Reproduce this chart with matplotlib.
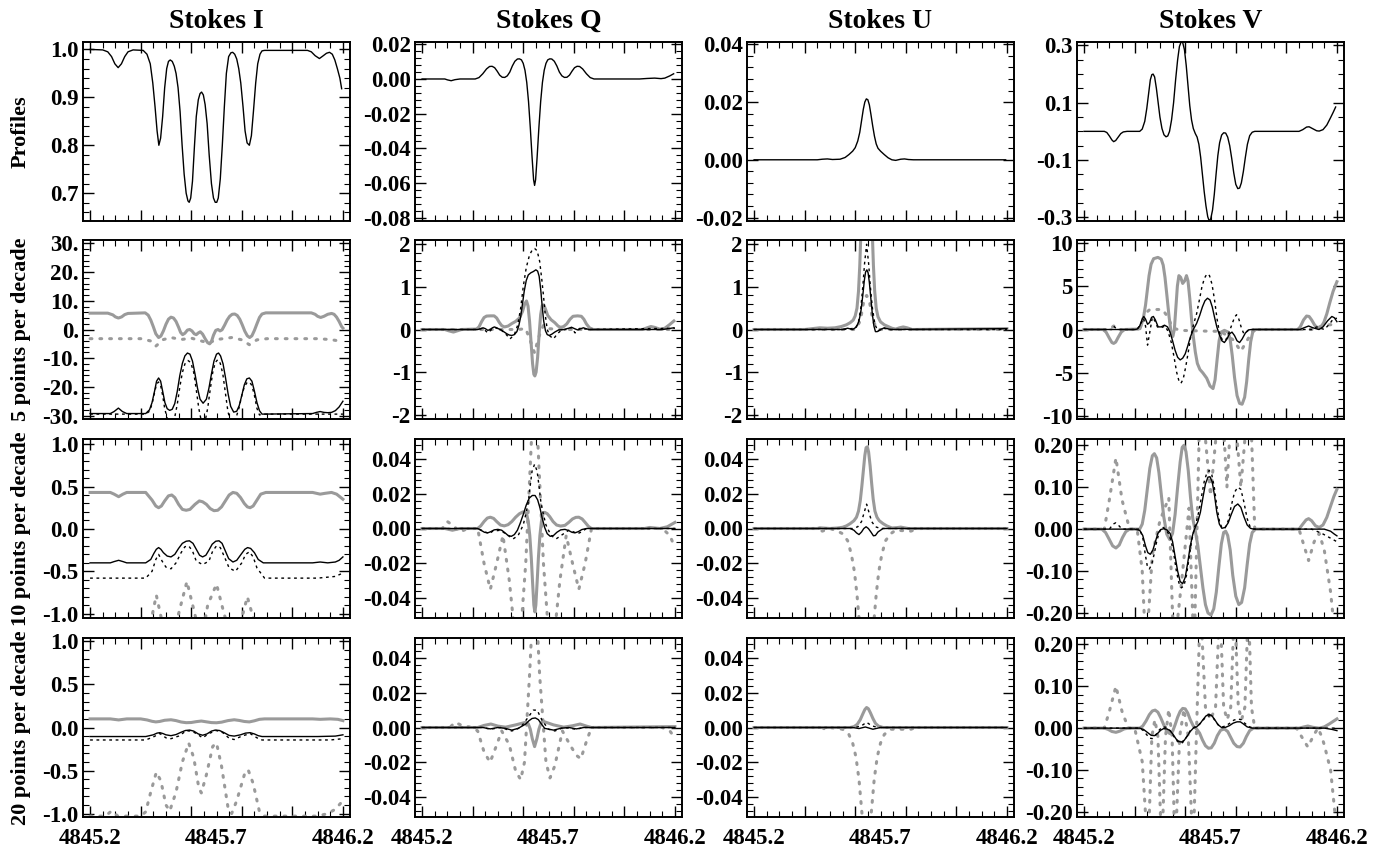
import matplotlib
matplotlib.use("Agg")
import matplotlib.pyplot as plt
from matplotlib.ticker import MultipleLocator, FixedLocator, FixedFormatter

plt.rcParams['font.family'] = ['Liberation Serif', 'DejaVu Serif']
plt.rcParams['font.weight'] = 'bold'
plt.rcParams['axes.unicode_minus'] = False

# ---------------- data ----------------
col_titles = ["Stokes I", "Stokes Q", "Stokes U", "Stokes V"]
row_labels = ["Profiles", "5 points per decade", "10 points per decade", "20 points per decade"]
x_labels = ["4845.2", "4845.7", "4846.2"]
x_label_pos = [4845.2, 4845.7, 4846.2]

# Row 1: profiles
prof_I = [(4845.20,1.000),(4845.25,0.999),(4845.27,0.995),(4845.285,0.985),(4845.298,0.970),(4845.311,0.962),
          (4845.324,0.970),(4845.337,0.985),(4845.35,0.995),(4845.37,0.999),(4845.41,0.998),(4845.425,0.99),
          (4845.438,0.97),(4845.448,0.93),(4845.457,0.88),(4845.465,0.83),(4845.472,0.80),(4845.479,0.815),
          (4845.487,0.86),(4845.495,0.92),(4845.503,0.96),(4845.51,0.975),(4845.517,0.978),(4845.525,0.975),
          (4845.533,0.965),(4845.54,0.95),(4845.548,0.92),(4845.556,0.87),(4845.564,0.80),(4845.572,0.74),
          (4845.58,0.70),(4845.587,0.684),(4845.592,0.681),(4845.598,0.69),(4845.605,0.725),(4845.613,0.80),
          (4845.62,0.86),(4845.628,0.895),(4845.635,0.908),(4845.641,0.911),(4845.648,0.905),(4845.655,0.885),
          (4845.663,0.845),(4845.671,0.78),(4845.68,0.72),(4845.688,0.69),(4845.695,0.681),(4845.701,0.681),
          (4845.707,0.69),(4845.715,0.73),(4845.723,0.80),(4845.731,0.88),(4845.739,0.95),(4845.748,0.985),
          (4845.757,0.993),(4845.764,0.994),(4845.772,0.99),(4845.78,0.98),(4845.788,0.96),(4845.796,0.93),
          (4845.805,0.88),(4845.813,0.83),(4845.821,0.805),(4845.83,0.80),(4845.838,0.82),(4845.846,0.87),
          (4845.855,0.93),(4845.863,0.97),(4845.872,0.99),(4845.88,0.997),(4845.89,0.998),(4846.06,0.998),
          (4846.075,0.995),(4846.09,0.987),(4846.107,0.981),(4846.12,0.986),(4846.135,0.992),(4846.147,0.994),
          (4846.158,0.99),(4846.168,0.978),(4846.178,0.96),(4846.188,0.94),(4846.195,0.918)]
prof_Q = [(4845.20,0),(4845.29,0),(4845.30,-0.0005),(4845.315,-0.001),(4845.33,-0.0004),(4845.35,0),(4845.41,0),
          (4845.425,0.0008),(4845.44,0.003),(4845.455,0.0058),(4845.467,0.0072),(4845.477,0.0073),(4845.487,0.0065),
          (4845.497,0.0045),(4845.507,0.0022),(4845.517,0.001),(4845.527,0.0009),(4845.537,0.0018),(4845.547,0.004),
          (4845.557,0.0075),(4845.567,0.0102),(4845.577,0.0115),(4845.585,0.0116),(4845.593,0.011),(4845.60,0.009),
          (4845.607,0.005),(4845.614,-0.002),(4845.621,-0.013),(4845.628,-0.028),(4845.635,-0.045),(4845.641,-0.058),
          (4845.645,-0.0613),(4845.649,-0.058),(4845.655,-0.045),(4845.662,-0.028),(4845.669,-0.013),(4845.676,-0.002),
          (4845.683,0.005),(4845.69,0.009),(4845.697,0.011),(4845.705,0.0116),(4845.713,0.0115),(4845.723,0.0102),
          (4845.733,0.0075),(4845.743,0.004),(4845.753,0.0018),(4845.763,0.0009),(4845.773,0.001),(4845.783,0.0022),
          (4845.793,0.0045),(4845.803,0.0065),(4845.813,0.0073),(4845.823,0.0072),(4845.835,0.0058),(4845.85,0.003),
          (4845.865,0.0008),(4845.88,0),(4846.06,0),(4846.09,0.0003),(4846.12,0.0005),(4846.145,0.0002),
          (4846.16,0.0005),(4846.18,0.0018),(4846.195,0.003)]
prof_U = [(4845.20,0),(4845.45,0),(4845.47,0.0002),(4845.49,0.0003),(4845.51,0.0001),(4845.54,0.0002),(4845.56,0.0008),
          (4845.575,0.0018),(4845.59,0.003),(4845.60,0.0042),(4845.61,0.0065),(4845.618,0.0095),(4845.625,0.0135),
          (4845.632,0.0175),(4845.638,0.0200),(4845.644,0.0211),(4845.65,0.0208),(4845.656,0.019),(4845.662,0.0158),
          (4845.669,0.0118),(4845.676,0.0082),(4845.683,0.0055),(4845.69,0.004),(4845.70,0.003),(4845.715,0.0018),
          (4845.73,0.0007),(4845.745,0.0),(4845.76,-0.0002),(4845.78,0.0002),(4845.795,0.0003),(4845.81,0.0001),
          (4845.83,0.0),(4846.195,0.0)]
prof_V = [(4845.20,0),(4845.28,0),(4845.29,-0.004),(4845.30,-0.016),(4845.31,-0.03),(4845.317,-0.036),(4845.325,-0.032),
          (4845.335,-0.02),(4845.345,-0.008),(4845.355,-0.002),(4845.37,0),(4845.42,0),(4845.43,0.008),(4845.44,0.035),
          (4845.448,0.08),(4845.455,0.13),(4845.462,0.18),(4845.468,0.198),(4845.473,0.20),(4845.479,0.19),
          (4845.486,0.15),(4845.493,0.10),(4845.50,0.05),(4845.508,0.01),(4845.516,-0.012),(4845.524,-0.019),
          (4845.531,-0.016),(4845.538,0.0),(4845.546,0.04),(4845.554,0.10),(4845.562,0.18),(4845.57,0.25),
          (4845.577,0.296),(4845.584,0.313),(4845.59,0.31),(4845.597,0.285),(4845.604,0.23),(4845.611,0.16),
          (4845.618,0.09),(4845.625,0.04),(4845.632,0.01),(4845.64,-0.008),(4845.647,-0.02),(4845.654,-0.045),
          (4845.661,-0.09),(4845.668,-0.15),(4845.675,-0.21),(4845.682,-0.26),(4845.689,-0.298),(4845.695,-0.313),
          (4845.701,-0.305),(4845.708,-0.275),(4845.715,-0.22),(4845.722,-0.15),(4845.729,-0.085),(4845.736,-0.04),
          (4845.744,-0.013),(4845.752,-0.005),(4845.76,-0.006),(4845.768,-0.02),(4845.776,-0.05),(4845.784,-0.095),
          (4845.792,-0.145),(4845.80,-0.185),(4845.808,-0.20),(4845.815,-0.198),(4845.822,-0.18),(4845.83,-0.14),
          (4845.838,-0.09),(4845.846,-0.045),(4845.855,-0.015),(4845.865,-0.003),(4845.875,0),(4846.05,0),
          (4846.065,0.006),(4846.08,0.015),(4846.09,0.016),(4846.105,0.009),(4846.12,0.002),(4846.13,0.001),
          (4846.145,0.006),(4846.16,0.022),(4846.175,0.048),(4846.185,0.066),(4846.195,0.085)]

# Row 2: 5 points per decade  (gs = gray solid, gd = gray dotted, ks = black solid, kd = black dashed)
r2_I_gs = [(4845.20,5.7),(4845.27,5.7),(4845.29,5.1),(4845.30,4.4),(4845.312,4.0),(4845.325,4.4),(4845.337,5.2),
           (4845.35,5.6),(4845.418,5.8),(4845.43,5.0),(4845.44,3.3),(4845.45,1.0),(4845.46,-1.5),(4845.471,-2.8),
           (4845.48,-2.3),(4845.49,-0.5),(4845.50,1.8),(4845.51,3.6),(4845.52,4.3),(4845.53,4.0),(4845.54,2.8),
           (4845.55,0.8),(4845.558,-1.0),(4845.566,-1.8),(4845.575,-1.3),(4845.585,-0.2),(4845.594,0.0),
           (4845.603,-0.5),(4845.612,-1.5),(4845.62,-1.8),(4845.628,-1.2),(4845.636,-0.8),(4845.645,-1.6),
           (4845.655,-3.2),(4845.665,-4.6),(4845.673,-5.0),(4845.68,-4.2),(4845.688,-2.0),(4845.697,-0.3),
           (4845.706,0.0),(4845.714,-0.5),(4845.722,-0.1),(4845.732,1.5),(4845.742,3.3),(4845.752,4.6),
           (4845.762,5.3),(4845.772,5.4),(4845.782,4.9),(4845.792,3.6),(4845.802,1.6),(4845.812,-0.6),
           (4845.822,-2.2),(4845.831,-2.8),(4845.84,-2.2),(4845.85,-0.3),(4845.86,2.0),(4845.87,4.2),(4845.88,5.4),
           (4845.895,5.8),(4846.075,5.8),(4846.09,5.3),(4846.10,4.6),(4846.112,4.2),(4846.125,4.6),(4846.14,5.3),
           (4846.155,5.6),(4846.165,5.3),(4846.175,4.3),(4846.185,2.8),(4846.195,1.0),(4846.2,0.5)]
r2_I_gd = [(4845.20,-3.2),(4845.40,-3.2),(4845.44,-4.0),(4845.46,-5.8),(4845.49,-3.5),(4845.52,-2.8),
           (4845.56,-3.5),(4845.60,-3.0),(4845.64,-4.0),(4845.67,-4.7),(4845.70,-3.5),(4845.76,-2.8),
           (4845.80,-3.6),(4845.83,-5.3),(4845.86,-3.6),(4845.90,-3.2),(4846.10,-3.2),(4846.15,-3.5),(4846.2,-4.2)]
r2_I_ks = [(4845.20,-29.3),(4845.28,-29.3),(4845.295,-28.6),(4845.312,-27.4),(4845.328,-28.6),(4845.345,-29.3),
           (4845.42,-29.3),(4845.435,-28),(4845.445,-25.5),(4845.455,-21.5),(4845.463,-18),(4845.471,-16.9),
           (4845.479,-18),(4845.487,-21.5),(4845.496,-25.5),(4845.505,-27.6),(4845.515,-28.2),(4845.525,-27.8),
           (4845.535,-25.8),(4845.545,-21.5),(4845.555,-16),(4845.565,-11.8),(4845.575,-9.2),(4845.585,-8.2),
           (4845.595,-8.6),(4845.605,-11),(4845.615,-15.5),(4845.625,-20.5),(4845.635,-24.3),(4845.647,-25.7),
           (4845.66,-24.3),(4845.67,-20.5),(4845.68,-15.5),(4845.69,-11),(4845.70,-8.6),(4845.708,-8.2),
           (4845.716,-9.2),(4845.726,-12),(4845.736,-17),(4845.746,-22.5),(4845.756,-26.8),(4845.768,-28.8),
           (4845.78,-28.5),(4845.79,-26.5),(4845.80,-23),(4845.81,-19.3),(4845.82,-17.2),(4845.83,-16.9),
           (4845.84,-18),(4845.85,-21.5),(4845.86,-25.5),(4845.87,-28.3),(4845.88,-29.5),(4846.08,-29.3),
           (4846.095,-28.9),(4846.11,-28.6),(4846.125,-28.9),(4846.14,-29.0),(4846.155,-28.9),(4846.17,-28.3),
           (4846.185,-27),(4846.2,-25.0)]
r2_I_kd = [(4845.20,-29.5),(4845.42,-29.5),(4845.435,-28.5),(4845.445,-26),(4845.455,-22),(4845.463,-19),
           (4845.471,-18.3),(4845.479,-19.5),(4845.487,-23),(4845.495,-27.5),(4845.505,-31),(4845.52,-32),
           (4845.535,-30.5),(4845.545,-26),(4845.555,-20),(4845.565,-15),(4845.575,-12),(4845.587,-10.8),
           (4845.598,-11.5),(4845.61,-15),(4845.62,-21),(4845.63,-27.5),(4845.64,-32),(4845.655,-32),
           (4845.665,-27.5),(4845.675,-21),(4845.685,-15),(4845.695,-11.5),(4845.705,-10.5),(4845.715,-11.8),
           (4845.725,-15.5),(4845.735,-22),(4845.745,-28.5),(4845.755,-32),(4845.77,-32),(4845.78,-30),
           (4845.79,-27),(4845.80,-23),(4845.81,-20),(4845.82,-18.6),(4845.83,-18.3),(4845.84,-19.5),
           (4845.85,-23),(4845.86,-27.5),(4845.87,-29.8),(4845.88,-29.5),(4846.2,-29.5)]

r2_Q_gs = [(4845.200,0),(4845.29,0),(4845.305,-0.03),(4845.324,-0.06),(4845.34,-0.03),(4845.356,0),(4845.415,0.01),
           (4845.425,0.06),(4845.435,0.18),(4845.445,0.28),(4845.455,0.315),(4845.47,0.32),(4845.485,0.32),
           (4845.495,0.27),(4845.505,0.17),(4845.515,0.09),(4845.526,0.06),(4845.54,0.08),(4845.555,0.14),
           (4845.57,0.19),(4845.585,0.27),(4845.597,0.42),(4845.606,0.6),(4845.613,0.67),(4845.619,0.55),
           (4845.625,0.2),(4845.631,-0.3),(4845.637,-0.8),(4845.642,-1.05),(4845.646,-1.09),(4845.651,-1.0),
           (4845.657,-0.65),(4845.663,-0.1),(4845.669,0.35),(4845.675,0.56),(4845.681,0.58),(4845.688,0.48),
           (4845.697,0.33),(4845.71,0.23),(4845.725,0.16),(4845.738,0.08),(4845.748,0.05),(4845.76,0.07),
           (4845.772,0.13),(4845.785,0.24),(4845.797,0.31),(4845.815,0.32),(4845.83,0.31),(4845.84,0.24),
           (4845.85,0.13),(4845.862,0.04),(4845.877,0),(4846.072,0),(4846.09,0.04),(4846.105,0.07),(4846.12,0.05),
           (4846.144,0.0),(4846.16,0.03),(4846.178,0.11),(4846.196,0.2)]
r2_Q_gd = [(4845.20,0),(4845.58,0),(4845.61,0.02),(4845.63,-0.3),(4845.645,-0.55),(4845.66,-0.2),
           (4845.68,0.1),(4845.70,0.02),(4845.75,0),(4846.2,0)]
r2_Q_ks = [(4845.200,0.0),(4845.421,0.0),(4845.432,0.02),(4845.441,0.04),(4845.45,0.02),(4845.46,-0.02),
           (4845.47,0.0),(4845.478,0.04),(4845.486,0.06),(4845.495,0.04),(4845.505,0.01),(4845.515,-0.02),
           (4845.525,-0.06),(4845.535,-0.1),(4845.545,-0.13),(4845.555,-0.14),(4845.565,-0.12),(4845.575,-0.05),
           (4845.583,0.1),(4845.59,0.3),(4845.597,0.6),(4845.604,0.9),(4845.612,1.15),(4845.62,1.28),(4845.63,1.33),
           (4845.64,1.36),(4845.65,1.40),(4845.657,1.37),(4845.663,1.25),(4845.669,0.95),(4845.675,0.55),
           (4845.681,0.2),(4845.688,-0.03),(4845.695,-0.12),(4845.703,-0.14),(4845.713,-0.11),(4845.725,-0.06),
           (4845.74,-0.01),(4845.76,0.0),(4845.78,0.03),(4845.792,0.05),(4845.803,0.02),(4845.815,-0.01),
           (4845.828,0.02),(4845.838,0.04),(4845.848,0.02),(4845.86,0.0),(4846.151,0.0),(4846.196,0.04)]
r2_Q_kd = [(4845.20,0),(4845.42,0),(4845.44,0.03),(4845.46,-0.08),(4845.475,0.0),(4845.49,0.04),(4845.51,0),
           (4845.53,-0.1),(4845.548,-0.22),(4845.565,-0.12),(4845.578,0.1),(4845.59,0.5),(4845.60,1.0),
           (4845.612,1.45),(4845.625,1.75),(4845.637,1.88),(4845.645,1.9),(4845.655,1.85),(4845.665,1.6),
           (4845.673,1.2),(4845.68,0.8),(4845.687,0.35),(4845.695,0.0),(4845.705,-0.15),(4845.72,-0.22),
           (4845.735,-0.1),(4845.75,-0.02),(4845.77,0.0),(4845.79,0.05),(4845.805,-0.08),(4845.825,0.03),
           (4845.86,0),(4846.2,0.03)]

r2_U_gs = [(4845.20,0),(4845.40,0),(4845.43,0.02),(4845.46,0.04),(4845.49,0.03),(4845.52,0.04),(4845.545,0.07),
           (4845.565,0.11),(4845.58,0.16),(4845.592,0.22),(4845.60,0.32),(4845.607,0.5),(4845.613,0.9),
           (4845.618,1.5),(4845.622,2.2),(4845.628,3.0),(4845.645,3.4),(4845.662,3.0),(4845.668,2.2),
           (4845.672,1.5),(4845.677,0.9),(4845.683,0.5),(4845.69,0.3),(4845.70,0.18),(4845.715,0.11),
           (4845.73,0.07),(4845.745,0.03),(4845.76,0.01),(4845.775,0.04),(4845.79,0.06),(4845.805,0.04),
           (4845.825,0.0),(4846.2,0.02)]
r2_U_gd = [(4845.20,0),(4845.60,0),(4845.62,0.2),(4845.635,0.7),(4845.645,0.8),(4845.655,0.7),(4845.67,0.2),
           (4845.69,0),(4846.2,0)]
r2_U_ks = [(4845.20,0),(4845.55,0),(4845.57,0.03),(4845.59,0.0),(4845.605,0.06),(4845.615,0.2),(4845.623,0.45),
           (4845.63,0.8),(4845.636,1.15),(4845.641,1.35),(4845.646,1.4),(4845.651,1.33),(4845.656,1.1),
           (4845.662,0.72),(4845.668,0.35),(4845.674,0.08),(4845.68,-0.05),(4845.687,-0.05),(4845.70,0.0),
           (4845.715,0.04),(4845.74,0.0),(4846.2,0.02)]
r2_U_kd = [(4845.20,0),(4845.55,0),(4845.60,0.03),(4845.612,0.15),(4845.622,0.5),(4845.63,1.0),(4845.637,1.55),
           (4845.645,2.0),(4845.653,1.55),(4845.66,1.0),(4845.668,0.5),(4845.678,0.12),(4845.69,-0.04),
           (4845.71,0.03),(4845.74,0),(4846.2,0)]

r2_V_gs = [(4845.200,0),(4845.275,0),(4845.287,-0.3),(4845.30,-1.0),(4845.31,-1.5),(4845.317,-1.6),(4845.325,-1.45),
           (4845.335,-0.9),(4845.347,-0.3),(4845.36,0),(4845.415,0.05),(4845.425,0.4),(4845.435,1.4),(4845.443,2.8),
           (4845.45,4.5),(4845.457,6.2),(4845.465,7.5),(4845.475,8.15),(4845.492,8.3),(4845.505,8.1),(4845.513,7.4),
           (4845.52,6.0),(4845.528,3.8),(4845.536,1.5),(4845.544,-0.3),(4845.551,-0.8),(4845.557,0.0),(4845.563,2.5),
           (4845.569,5.0),(4845.575,6.2),(4845.582,6.0),(4845.59,5.3),(4845.598,5.6),(4845.605,6.2),(4845.611,5.6),
           (4845.618,3.6),(4845.625,1.2),(4845.632,-0.8),(4845.64,-2.6),(4845.648,-3.9),(4845.658,-4.6),
           (4845.67,-5.0),(4845.685,-5.6),(4845.698,-6.5),(4845.71,-6.8),(4845.718,-5.8),(4845.726,-3.5),
           (4845.734,-1.3),(4845.742,-0.3),(4845.755,-0.1),(4845.77,-0.3),(4845.778,-1.2),(4845.786,-3.0),
           (4845.795,-5.5),(4845.805,-7.6),(4845.815,-8.5),(4845.825,-8.6),(4845.835,-7.8),(4845.843,-6.0),
           (4845.851,-3.5),(4845.859,-1.4),(4845.867,-0.3),(4845.878,0),(4846.045,0),(4846.055,0.3),(4846.068,1.1),
           (4846.08,1.55),(4846.09,1.5),(4846.10,1.1),(4846.112,0.5),(4846.125,0.15),(4846.135,0.2),(4846.148,0.8),
           (4846.16,1.8),(4846.172,3.1),(4846.185,4.4),(4846.2,5.5)]
r2_V_gd = [(4845.20,0),(4845.30,0),(4845.317,0.4),(4845.34,0),(4845.42,0),(4845.44,1.8),(4845.46,2.3),
           (4845.51,2.3),(4845.53,1.5),(4845.55,0.2),(4845.58,-0.1),(4845.70,-0.2),(4845.74,-0.2),(4845.79,-1.2),
           (4845.82,-2.5),(4845.85,-1.0),(4845.87,0),(4846.10,0),(4846.15,0.5),(4846.2,0.6)]
r2_V_ks = [(4845.200,0),(4845.401,0),(4845.41,0.05),(4845.42,0.4),(4845.43,1.2),(4845.436,1.5),(4845.443,1.2),
           (4845.451,0.6),(4845.459,0.8),(4845.467,1.4),(4845.474,1.5),(4845.482,1.1),(4845.493,0.3),(4845.505,0.3),
           (4845.518,0.5),(4845.53,0.3),(4845.54,-0.3),(4845.55,-1.3),(4845.56,-2.4),(4845.57,-3.2),(4845.58,-3.5),
           (4845.59,-3.3),(4845.60,-2.8),(4845.61,-1.9),(4845.62,-0.9),(4845.632,0.0),(4845.645,0.7),(4845.657,1.6),
           (4845.668,2.6),(4845.678,3.3),(4845.688,3.6),(4845.698,3.4),(4845.707,2.6),(4845.716,1.4),(4845.725,0.3),
           (4845.735,-0.6),(4845.745,-1.3),(4845.755,-1.5),(4845.765,-1.1),(4845.775,-0.5),(4845.785,-0.3),
           (4845.795,-0.7),(4845.805,-1.3),(4845.815,-1.5),(4845.825,-1.1),(4845.838,-0.4),(4845.85,-0.05),
           (4845.862,0),(4846.054,0),(4846.07,0.2),(4846.088,0.4),(4846.105,0.2),(4846.129,0.0),(4846.145,0.3),
           (4846.163,1.0),(4846.18,1.5),(4846.19,1.35),(4846.2,0.9)]
r2_V_kd = [(4845.20,0),(4845.31,0),(4845.317,0.4),(4845.33,0),(4845.41,0),(4845.425,0.7),(4845.435,1.3),
           (4845.443,0.4),(4845.451,-1.8),(4845.46,-0.3),(4845.47,1.4),(4845.48,1.0),(4845.49,0.3),(4845.505,0.2),
           (4845.52,0.4),(4845.532,-0.2),(4845.545,-1.5),(4845.556,-3.2),(4845.566,-4.9),(4845.575,-5.9),
           (4845.583,-6.2),(4845.592,-5.7),(4845.602,-4.3),(4845.612,-2.6),(4845.622,-0.8),(4845.633,0.6),
           (4845.645,1.8),(4845.656,3.4),(4845.666,4.9),(4845.676,5.9),(4845.686,6.4),(4845.696,6.2),(4845.706,5.2),
           (4845.716,3.4),(4845.726,1.2),(4845.735,-0.3),(4845.745,-1.1),(4845.755,-1.3),(4845.765,-1.0),
           (4845.775,-0.2),(4845.785,0.6),(4845.795,1.4),(4845.803,1.7),(4845.812,1.2),(4845.822,0.2),
           (4845.832,-0.5),(4845.845,-0.2),(4845.855,0),(4846.10,0),(4846.12,0.3),(4846.15,0.0),(4846.17,0.6),
           (4846.185,1.2),(4846.2,1.3)]

# Row 3: 10 points per decade
r3_I_gs = [(4845.20,0.43),(4845.28,0.43),(4845.295,0.41),(4845.313,0.38),(4845.33,0.41),(4845.345,0.43),(4845.42,0.43),
           (4845.445,0.34),(4845.46,0.27),(4845.471,0.25),(4845.482,0.27),(4845.495,0.33),(4845.51,0.39),
           (4845.523,0.40),(4845.535,0.37),(4845.55,0.29),(4845.565,0.23),(4845.58,0.22),(4845.595,0.23),
           (4845.615,0.29),(4845.632,0.33),(4845.645,0.32),(4845.66,0.29),(4845.675,0.24),(4845.69,0.215),
           (4845.705,0.22),(4845.72,0.26),(4845.735,0.33),(4845.75,0.40),(4845.765,0.43),(4845.78,0.42),
           (4845.795,0.37),(4845.81,0.30),(4845.822,0.26),(4845.833,0.25),(4845.845,0.27),(4845.86,0.34),
           (4845.875,0.41),(4845.895,0.43),(4846.08,0.43),(4846.095,0.42),(4846.11,0.41),(4846.13,0.42),
           (4846.155,0.43),(4846.175,0.41),(4846.2,0.35)]
r3_I_gd = [(4845.20,-1.6),(4845.42,-1.6),(4845.44,-1.1),(4845.462,-0.78),(4845.485,-1.1),(4845.515,-1.4),
           (4845.55,-1.0),(4845.583,-0.62),(4845.61,-0.95),(4845.63,-1.2),(4845.645,-1.25),(4845.665,-0.9),
           (4845.70,-0.65),(4845.73,-1.0),(4845.77,-1.4),(4845.80,-1.05),(4845.822,-0.8),(4845.85,-1.1),
           (4845.89,-1.6),(4846.2,-1.6)]
r3_I_ks = [(4845.20,-0.40),(4845.28,-0.40),(4845.295,-0.385),(4845.313,-0.37),(4845.33,-0.385),(4845.345,-0.40),
           (4845.42,-0.40),(4845.44,-0.36),(4845.452,-0.29),(4845.462,-0.24),(4845.471,-0.22),(4845.48,-0.24),
           (4845.49,-0.28),(4845.505,-0.32),(4845.52,-0.33),(4845.535,-0.30),(4845.55,-0.23),(4845.565,-0.17),
           (4845.58,-0.145),(4845.593,-0.14),(4845.607,-0.17),(4845.62,-0.24),(4845.633,-0.31),(4845.645,-0.33),
           (4845.658,-0.31),(4845.67,-0.25),(4845.683,-0.18),(4845.697,-0.145),(4845.71,-0.14),(4845.722,-0.17),
           (4845.735,-0.26),(4845.748,-0.35),(4845.765,-0.39),(4845.78,-0.37),(4845.797,-0.30),(4845.812,-0.24),
           (4845.823,-0.22),(4845.835,-0.23),(4845.85,-0.28),(4845.865,-0.36),(4845.885,-0.40),(4846.08,-0.40),
           (4846.11,-0.39),(4846.14,-0.40),(4846.17,-0.39),(4846.185,-0.37),(4846.2,-0.33)]
r3_I_kd = [(4845.20,-0.58),(4845.42,-0.58),(4845.445,-0.50),(4845.46,-0.36),(4845.471,-0.30),(4845.485,-0.38),
           (4845.50,-0.45),(4845.52,-0.47),(4845.54,-0.40),(4845.56,-0.28),(4845.575,-0.21),(4845.59,-0.20),
           (4845.605,-0.26),(4845.62,-0.38),(4845.645,-0.42),(4845.67,-0.38),(4845.685,-0.26),(4845.70,-0.20),
           (4845.715,-0.22),(4845.73,-0.32),(4845.75,-0.46),(4845.775,-0.50),(4845.80,-0.40),(4845.815,-0.30),
           (4845.83,-0.27),(4845.845,-0.33),(4845.86,-0.46),(4845.89,-0.58),(4846.10,-0.58),(4846.17,-0.56),
           (4846.2,-0.52)]

r3_Q_gs = [(4845.20,0.0),(4845.29,0.0),(4845.305,-0.0005),(4845.32,-0.001),(4845.335,-0.0005),(4845.35,0.0),
           (4845.42,0.0),(4845.432,0.0015),(4845.445,0.004),(4845.458,0.006),(4845.47,0.0065),(4845.483,0.0058),
           (4845.495,0.004),(4845.51,0.002),(4845.525,0.0015),(4845.54,0.0022),(4845.555,0.004),(4845.57,0.0065),
           (4845.585,0.0085),(4845.598,0.0095),(4845.607,0.0095),(4845.614,0.008),(4845.62,0.004),(4845.626,-0.004),
           (4845.632,-0.017),(4845.637,-0.031),(4845.642,-0.044),(4845.646,-0.048),(4845.65,-0.044),(4845.655,-0.031),
           (4845.66,-0.017),(4845.666,-0.004),(4845.672,0.004),(4845.678,0.0085),(4845.685,0.0093),(4845.695,0.0085),
           (4845.705,0.0068),(4845.718,0.004),(4845.732,0.002),(4845.748,0.0014),(4845.765,0.0018),(4845.78,0.0035),
           (4845.795,0.0055),(4845.808,0.0064),(4845.82,0.0065),(4845.833,0.0055),(4845.845,0.0035),
           (4845.858,0.0012),(4845.87,0.0),(4846.08,0.0),(4846.10,0.0006),(4846.12,0.0003),(4846.14,0.0),
           (4846.17,0.001),(4846.2,0.0035)]
r3_Q_gd = [(4845.20,0),(4845.28,0),(4845.30,0.004),(4845.32,0.002),(4845.35,-0.002),(4845.38,0),(4845.42,0),
           (4845.445,-0.02),(4845.47,-0.035),(4845.495,-0.02),(4845.52,-0.004),(4845.545,-0.03),(4845.58,-0.08),
           (4845.61,-0.02),(4845.645,0.09),(4845.68,-0.02),(4845.71,-0.08),(4845.745,-0.03),(4845.77,-0.004),
           (4845.795,-0.02),(4845.82,-0.035),(4845.845,-0.02),(4845.87,0),(4846.15,0),(4846.18,-0.004),(4846.2,-0.011)]
r3_Q_ks = [(4845.20,0),(4845.42,0),(4845.435,-0.0012),(4845.447,-0.0022),(4845.46,-0.0025),(4845.472,-0.0018),
           (4845.485,-0.0008),(4845.50,-0.0005),(4845.515,-0.001),(4845.528,-0.0025),(4845.54,-0.004),
           (4845.553,-0.0045),(4845.565,-0.0035),(4845.577,-0.001),(4845.588,0.003),(4845.60,0.008),
           (4845.612,0.0135),(4845.624,0.0175),(4845.636,0.019),(4845.647,0.019),(4845.657,0.0165),(4845.666,0.012),
           (4845.675,0.006),(4845.685,0.0005),(4845.695,-0.003),(4845.707,-0.0045),(4845.72,-0.004),
           (4845.733,-0.0022),(4845.748,-0.0008),(4845.765,-0.0005),(4845.78,-0.0012),(4845.793,-0.0022),
           (4845.805,-0.0025),(4845.818,-0.0018),(4845.832,-0.0006),(4845.85,0),(4846.2,0)]
r3_Q_kd = [(4845.20,0),(4845.42,0),(4845.45,-0.002),(4845.465,-0.003),(4845.48,-0.0015),(4845.51,-0.001),
           (4845.54,-0.004),(4845.56,-0.006),(4845.58,-0.004),(4845.60,0.002),(4845.61,0.008),(4845.62,0.015),
           (4845.628,0.025),(4845.635,0.033),(4845.645,0.037),(4845.655,0.033),(4845.662,0.025),(4845.67,0.015),
           (4845.68,0.008),(4845.69,0.002),(4845.71,-0.004),(4845.73,-0.006),(4845.75,-0.004),(4845.78,-0.001),
           (4845.80,-0.002),(4845.815,-0.003),(4845.83,-0.002),(4845.85,0),(4846.2,0)]

r3_U_gs = [(4845.20,0),(4845.45,0),(4845.46,0.0004),(4845.48,0.0002),(4845.50,0.0),(4845.53,0.0003),(4845.55,0.0007),
           (4845.565,0.0015),(4845.58,0.0028),(4845.595,0.0045),(4845.605,0.0065),(4845.613,0.01),(4845.62,0.016),
           (4845.626,0.024),(4845.632,0.033),(4845.638,0.042),(4845.643,0.0465),(4845.648,0.047),(4845.653,0.044),
           (4845.659,0.036),(4845.665,0.026),(4845.671,0.017),(4845.678,0.01),(4845.686,0.0065),(4845.695,0.0045),
           (4845.71,0.0028),(4845.725,0.0015),(4845.745,0.0003),(4845.765,0.0005),(4845.78,0.0008),(4845.795,0.0004),
           (4845.81,0),(4846.2,0)]
r3_U_gd = [(4845.20,0),(4845.45,0),(4845.47,-0.0015),(4845.50,0),(4845.53,-0.0015),(4845.55,-0.003),(4845.57,-0.007),
           (4845.585,-0.015),(4845.597,-0.025),(4845.607,-0.038),(4845.617,-0.055),(4845.63,-0.08),(4845.645,-0.09),
           (4845.66,-0.08),(4845.673,-0.055),(4845.683,-0.038),(4845.693,-0.025),(4845.705,-0.015),(4845.72,-0.007),
           (4845.74,-0.003),(4845.76,-0.001),(4845.82,-0.0015),(4845.85,0),(4846.2,0)]
r3_U_ks = [(4845.20,0),(4845.58,0),(4845.595,-0.001),(4845.605,-0.0025),(4845.615,-0.0035),(4845.625,-0.002),
           (4845.634,0.0),(4845.643,0.001),(4845.652,0.0),(4845.662,-0.002),(4845.672,-0.0042),(4845.68,-0.004),
           (4845.69,-0.002),(4845.71,0),(4846.2,0)]
r3_U_kd = [(4845.20,0),(4845.59,0),(4845.61,0.001),(4845.625,0.004),(4845.635,0.009),(4845.645,0.014),
           (4845.655,0.009),(4845.665,0.004),(4845.68,0.001),(4845.70,0),(4846.2,0)]

r3_V_gs = [(4845.20,0),(4845.27,0),(4845.285,-0.008),(4845.30,-0.025),(4845.313,-0.04),(4845.326,-0.045),
           (4845.339,-0.038),(4845.352,-0.02),(4845.365,-0.006),(4845.38,0),(4845.42,0.0),(4845.43,0.012),
           (4845.44,0.045),(4845.45,0.095),(4845.46,0.145),(4845.47,0.175),(4845.478,0.18),(4845.487,0.17),
           (4845.496,0.135),(4845.505,0.085),(4845.515,0.03),(4845.527,-0.012),(4845.539,-0.025),(4845.55,-0.01),
           (4845.56,0.035),(4845.57,0.1),(4845.58,0.16),(4845.588,0.195),(4845.595,0.2),(4845.603,0.185),
           (4845.612,0.14),(4845.621,0.075),(4845.63,0.025),(4845.64,-0.005),(4845.65,-0.04),(4845.66,-0.09),
           (4845.67,-0.14),(4845.68,-0.18),(4845.69,-0.20),(4845.702,-0.205),(4845.713,-0.19),(4845.723,-0.15),
           (4845.733,-0.09),(4845.743,-0.035),(4845.752,-0.008),(4845.76,-0.005),(4845.768,-0.015),(4845.778,-0.05),
           (4845.788,-0.11),(4845.80,-0.16),(4845.812,-0.18),(4845.823,-0.175),(4845.835,-0.14),(4845.845,-0.085),
           (4845.855,-0.035),(4845.865,-0.008),(4845.878,0),(4846.05,0),(4846.065,0.012),(4846.078,0.022),
           (4846.088,0.025),(4846.10,0.02),(4846.115,0.008),(4846.13,0.004),(4846.145,0.01),(4846.16,0.028),
           (4846.175,0.055),(4846.188,0.078),(4846.2,0.095)]
r3_V_gd = [(4845.20,0),(4845.28,0),(4845.30,0.07),(4845.326,0.17),(4845.35,0.07),(4845.38,0),(4845.41,0),
           (4845.43,-0.1),(4845.445,-0.3),(4845.47,-0.06),(4845.50,0.02),(4845.535,0.075),(4845.555,-0.3),
           (4845.59,-0.1),(4845.615,0.05),(4845.635,-0.3),(4845.66,0.35),(4845.70,0.08),(4845.742,0.35),
           (4845.765,0.1),(4845.788,0.35),(4845.82,0.1),(4845.855,0.35),(4845.875,0),(4846.05,0),(4846.07,-0.04),
           (4846.088,-0.075),(4846.11,-0.03),(4846.13,-0.01),(4846.15,-0.05),(4846.175,-0.15),(4846.2,-0.30)]
r3_V_ks = [(4845.20,0),(4845.40,0),(4845.42,-0.003),(4845.432,-0.015),(4845.443,-0.04),(4845.452,-0.056),
           (4845.462,-0.06),(4845.472,-0.05),(4845.482,-0.03),(4845.492,-0.01),(4845.503,-0.001),(4845.515,0.001),
           (4845.528,-0.002),(4845.54,-0.01),(4845.55,-0.03),(4845.56,-0.065),(4845.57,-0.10),(4845.58,-0.125),
           (4845.59,-0.13),(4845.60,-0.115),(4845.61,-0.08),(4845.62,-0.04),(4845.63,-0.012),(4845.64,0.005),
           (4845.65,0.018),(4845.66,0.04),(4845.67,0.075),(4845.68,0.108),(4845.69,0.124),(4845.698,0.125),
           (4845.707,0.112),(4845.716,0.08),(4845.725,0.04),(4845.735,0.012),(4845.745,0.002),(4845.758,0.004),
           (4845.77,0.015),(4845.782,0.035),(4845.795,0.054),(4845.808,0.06),(4845.82,0.052),(4845.832,0.03),
           (4845.845,0.01),(4845.858,0.002),(4845.87,0),(4846.15,0),(4846.175,-0.005),(4846.19,-0.012),(4846.2,-0.016)]
r3_V_kd = [(4845.20,0),(4845.30,0),(4845.315,0.012),(4845.325,0.015),(4845.338,0.008),(4845.35,0),(4845.42,0),
           (4845.432,-0.02),(4845.442,-0.06),(4845.45,-0.088),(4845.458,-0.095),(4845.467,-0.085),(4845.477,-0.06),
           (4845.487,-0.03),(4845.497,-0.008),(4845.51,0.005),(4845.523,0.0),(4845.535,-0.012),(4845.545,-0.03),
           (4845.555,-0.06),(4845.565,-0.10),(4845.575,-0.128),(4845.585,-0.14),(4845.595,-0.135),(4845.605,-0.11),
           (4845.615,-0.07),(4845.625,-0.03),(4845.635,0.0),(4845.645,0.02),(4845.655,0.045),(4845.665,0.08),
           (4845.675,0.113),(4845.685,0.133),(4845.695,0.14),(4845.705,0.13),(4845.715,0.10),(4845.725,0.055),
           (4845.735,0.02),(4845.745,0.003),(4845.757,0.002),(4845.77,0.02),(4845.782,0.055),(4845.795,0.088),
           (4845.808,0.10),(4845.82,0.095),(4845.832,0.065),(4845.845,0.025),(4845.857,0.005),(4845.875,0),
           (4846.10,0),(4846.14,-0.01),(4846.17,-0.02),(4846.2,-0.03)]

# Row 4: 20 points per decade
r4_I_gs = [(4845.20,0.10),(4845.28,0.10),(4845.313,0.088),(4845.345,0.10),(4845.40,0.10),(4845.425,0.088),
           (4845.445,0.072),(4845.46,0.065),(4845.475,0.07),(4845.495,0.084),(4845.52,0.09),(4845.54,0.08),
           (4845.56,0.064),(4845.58,0.056),(4845.60,0.058),(4845.62,0.068),(4845.64,0.075),(4845.66,0.066),
           (4845.68,0.057),(4845.70,0.055),(4845.72,0.062),(4845.745,0.08),(4845.77,0.09),(4845.79,0.082),
           (4845.81,0.07),(4845.83,0.065),(4845.85,0.078),(4845.87,0.095),(4845.89,0.10),(4846.08,0.10),
           (4846.11,0.095),(4846.15,0.10),(4846.18,0.095),(4846.2,0.08)]
r4_I_gd = [(4845.20,-1.03),(4845.26,-1.03),(4845.285,-0.97),(4845.31,-1.03),(4845.40,-1.03),(4845.42,-0.98),
           (4845.44,-0.75),(4845.462,-0.52),(4845.48,-0.62),(4845.50,-0.90),(4845.515,-0.97),(4845.54,-0.75),
           (4845.565,-0.40),(4845.59,-0.18),(4845.61,-0.35),(4845.63,-0.70),(4845.64,-0.76),(4845.66,-0.55),
           (4845.685,-0.22),(4845.70,-0.18),(4845.72,-0.45),(4845.745,-0.92),(4845.76,-1.0),(4845.78,-0.85),
           (4845.81,-0.55),(4845.825,-0.49),(4845.845,-0.65),(4845.87,-0.98),(4845.89,-1.03),(4846.10,-1.03),
           (4846.14,-1.0),(4846.17,-0.95),(4846.2,-0.85)]
r4_I_ks = [(4845.20,-0.105),(4845.42,-0.105),(4845.45,-0.085),(4845.465,-0.065),(4845.476,-0.06),(4845.488,-0.07),
           (4845.50,-0.085),(4845.52,-0.095),(4845.54,-0.082),(4845.56,-0.055),(4845.577,-0.035),(4845.594,-0.03),
           (4845.61,-0.042),(4845.628,-0.075),(4845.645,-0.09),(4845.662,-0.075),(4845.68,-0.042),(4845.695,-0.03),
           (4845.712,-0.035),(4845.73,-0.06),(4845.75,-0.092),(4845.77,-0.10),(4845.795,-0.085),(4845.815,-0.065),
           (4845.833,-0.06),(4845.85,-0.075),(4845.865,-0.095),(4845.88,-0.105),(4846.10,-0.105),(4846.17,-0.10),
           (4846.2,-0.085)]
r4_I_kd = [(4845.20,-0.145),(4845.42,-0.145),(4845.45,-0.11),(4845.476,-0.07),(4845.50,-0.12),(4845.52,-0.13),
           (4845.55,-0.10),(4845.58,-0.04),(4845.60,-0.04),(4845.62,-0.07),(4845.645,-0.12),(4845.67,-0.07),
           (4845.70,-0.035),(4845.725,-0.06),(4845.75,-0.125),(4845.77,-0.14),(4845.80,-0.10),(4845.833,-0.07),
           (4845.86,-0.12),(4845.88,-0.145),(4846.15,-0.145),(4846.2,-0.13)]

r4_Q_gs = [(4845.20,0),(4845.42,0),(4845.445,0.0012),(4845.472,0.002),(4845.50,0.0008),(4845.53,0.0002),
           (4845.57,0.0015),(4845.61,0.003),(4845.62,0.0022),(4845.628,-0.001),(4845.636,-0.0065),(4845.645,-0.011),
           (4845.654,-0.0065),(4845.662,-0.001),(4845.67,0.0025),(4845.68,0.0035),(4845.72,0.0015),(4845.76,0.0002),
           (4845.795,0.001),(4845.825,0.002),(4845.85,0.0008),(4845.87,0),(4846.2,0.0005)]
r4_Q_gd = [(4845.20,0),(4845.31,0),(4845.33,0.003),(4845.36,0.001),(4845.40,0),(4845.42,-0.002),(4845.445,-0.014),
           (4845.469,-0.02),(4845.49,-0.012),(4845.515,-0.002),(4845.545,-0.01),(4845.57,-0.025),(4845.59,-0.03),
           (4845.605,-0.02),(4845.625,0.03),(4845.645,0.09),(4845.665,0.03),(4845.69,-0.02),(4845.706,-0.029),
           (4845.725,-0.022),(4845.755,-0.002),(4845.785,-0.01),(4845.81,-0.016),(4845.828,-0.018),(4845.85,-0.008),
           (4845.87,0),(4846.15,0),(4846.18,-0.002),(4846.2,-0.006)]
r4_Q_ks = [(4845.20,0),(4845.44,0),(4845.47,-0.0008),(4845.50,0),(4845.53,-0.0005),(4845.555,-0.0015),
           (4845.58,-0.0005),(4845.61,0.002),(4845.622,0.0038),(4845.635,0.0052),(4845.648,0.0055),(4845.66,0.0045),
           (4845.672,0.002),(4845.685,-0.0005),(4845.72,-0.0015),(4845.75,-0.0004),(4845.78,0),(4845.81,-0.0008),
           (4845.84,0),(4846.2,0)]
r4_Q_kd = [(4845.20,0),(4845.44,0),(4845.47,-0.001),(4845.51,0),(4845.555,-0.002),(4845.59,0),(4845.62,0.006),
           (4845.64,0.010),(4845.655,0.010),(4845.675,0.004),(4845.70,-0.001),(4845.725,-0.002),(4845.76,0),
           (4845.81,-0.001),(4845.84,0),(4846.2,0)]

r4_U_gs = [(4845.20,0),(4845.58,0),(4845.595,0.0005),(4845.608,0.0018),(4845.62,0.0045),(4845.63,0.0078),
           (4845.638,0.0103),(4845.645,0.0115),(4845.652,0.0108),(4845.66,0.0085),(4845.67,0.0052),(4845.68,0.0024),
           (4845.692,0.0008),(4845.71,0),(4846.2,0)]
r4_U_gd = [(4845.20,0),(4845.47,0),(4845.48,-0.001),(4845.50,0),(4845.55,-0.001),(4845.575,-0.004),(4845.59,-0.009),
           (4845.603,-0.017),(4845.615,-0.03),(4845.627,-0.05),(4845.645,-0.08),(4845.663,-0.05),(4845.675,-0.03),
           (4845.687,-0.017),(4845.70,-0.009),(4845.715,-0.004),(4845.74,-0.001),(4845.82,-0.001),(4845.84,0),(4846.2,0)]
r4_U_ks = [(4845.20,0),(4845.59,0),(4845.615,-0.0006),(4845.64,0.0003),(4845.67,-0.001),(4845.70,0),(4846.2,0)]
r4_U_kd = [(4845.20,0),(4845.60,0),(4845.625,0.001),(4845.645,0.003),(4845.665,0.001),(4845.69,0),(4846.2,0)]

r4_V_gs = [(4845.20,0),(4845.28,0),(4845.295,-0.003),(4845.31,-0.008),(4845.326,-0.01),(4845.342,-0.007),
           (4845.358,-0.002),(4845.375,0),(4845.42,0),(4845.432,0.005),(4845.445,0.017),(4845.458,0.032),
           (4845.47,0.041),(4845.481,0.043),(4845.492,0.038),(4845.503,0.025),(4845.515,0.008),(4845.527,-0.007),
           (4845.539,-0.013),(4845.55,-0.008),(4845.56,0.008),(4845.57,0.026),(4845.58,0.04),(4845.59,0.047),
           (4845.60,0.046),(4845.61,0.036),(4845.62,0.02),(4845.632,0.005),(4845.645,-0.002),(4845.657,-0.012),
           (4845.668,-0.028),(4845.68,-0.042),(4845.692,-0.048),(4845.703,-0.047),(4845.715,-0.036),(4845.727,-0.018),
           (4845.74,-0.005),(4845.755,-0.002),(4845.768,-0.008),(4845.78,-0.022),(4845.792,-0.036),(4845.805,-0.044),
           (4845.817,-0.045),(4845.83,-0.036),(4845.842,-0.02),(4845.855,-0.006),(4845.87,0),(4846.05,0),
           (4846.07,0.003),(4846.085,0.005),(4846.105,0.002),(4846.13,0.0),(4846.15,0.003),(4846.17,0.01),
           (4846.185,0.016),(4846.2,0.022)]
r4_V_gd = [(4845.20,0),(4845.28,0),(4845.30,0.04),(4845.326,0.10),(4845.35,0.04),(4845.375,0),(4845.40,0),
           (4845.43,-0.08),(4845.453,-0.3),(4845.468,-0.02),(4845.48,0.02),(4845.492,-0.02),(4845.507,-0.3),
           (4845.522,-0.02),(4845.535,0.045),(4845.548,-0.02),(4845.56,-0.3),(4845.578,-0.02),(4845.595,0.045),
           (4845.612,-0.02),(4845.631,-0.3),(4845.645,0.0),(4845.66,0.3),(4845.68,0.05),(4845.70,0.02),
           (4845.72,0.05),(4845.737,0.3),(4845.752,0.05),(4845.766,0.02),(4845.78,0.05),(4845.795,0.3),
           (4845.81,0.05),(4845.823,0.02),(4845.836,0.05),(4845.85,0.3),(4845.862,0.05),(4845.875,0),(4846.04,0),
           (4846.06,-0.02),(4846.085,-0.045),(4846.11,-0.015),(4846.125,0),(4846.14,-0.02),(4846.15,-0.04),
           (4846.175,-0.1),(4846.2,-0.25)]
r4_V_ks = [(4845.20,0),(4845.42,0),(4845.435,-0.003),(4845.45,-0.01),(4845.465,-0.017),(4845.478,-0.018),
           (4845.49,-0.013),(4845.503,-0.005),(4845.515,-0.001),(4845.528,-0.002),(4845.54,-0.006),(4845.552,-0.015),
           (4845.564,-0.026),(4845.575,-0.032),(4845.585,-0.033),(4845.596,-0.029),(4845.608,-0.019),
           (4845.62,-0.008),(4845.632,0.0),(4845.645,0.003),(4845.658,0.01),(4845.67,0.02),(4845.682,0.029),
           (4845.694,0.033),(4845.705,0.03),(4845.717,0.02),(4845.73,0.008),(4845.745,0.001),(4845.76,0.002),
           (4845.775,0.006),(4845.79,0.012),(4845.805,0.015),(4845.818,0.015),(4845.83,0.01),(4845.845,0.003),
           (4845.865,0),(4846.15,0),(4846.18,-0.003),(4846.2,-0.006)]
r4_V_kd = [(4845.20,0),(4845.42,0),(4845.435,-0.006),(4845.448,-0.016),(4845.46,-0.024),(4845.47,-0.025),
           (4845.482,-0.018),(4845.495,-0.006),(4845.51,0.003),(4845.525,0.002),(4845.54,-0.006),(4845.553,-0.018),
           (4845.565,-0.029),(4845.576,-0.035),(4845.586,-0.036),(4845.597,-0.03),(4845.608,-0.018),(4845.62,-0.006),
           (4845.635,0.002),(4845.65,0.006),(4845.662,0.013),(4845.675,0.022),(4845.687,0.028),(4845.698,0.03),
           (4845.71,0.025),(4845.722,0.014),(4845.735,0.005),(4845.748,0.003),(4845.762,0.006),(4845.777,0.012),
           (4845.792,0.019),(4845.807,0.022),(4845.822,0.02),(4845.835,0.012),(4845.85,0.004),(4845.87,0),(4846.2,0)]

# y-axis ranges and tick labels per panel (row, col)
ylims = [[(0.642, 1.0155), (-0.0818, 0.0213), (-0.0212, 0.0408), (-0.313, 0.312)],
         [(-31.2, 31.2), (-2.1, 2.1), (-2.1, 2.1), (-10.3, 10.3)],
         [(-1.05, 1.06), (-0.0515, 0.0515), (-0.0515, 0.0515), (-0.212, 0.215)],
         [(-1.04, 1.04), (-0.0515, 0.0515), (-0.0515, 0.0515), (-0.212, 0.215)]]
yticks = [[[0.7, 0.8, 0.9, 1.0], [-0.08, -0.06, -0.04, -0.02, 0.0, 0.02], [-0.02, 0.0, 0.02, 0.04], [-0.3, -0.1, 0.1, 0.3]],
          [[-30, -20, -10, 0, 10, 20, 30], [-2, -1, 0, 1, 2], [-2, -1, 0, 1, 2], [-10, -5, 0, 5, 10]],
          [[-1.0, -0.5, 0.0, 0.5, 1.0], [-0.04, -0.02, 0.0, 0.02, 0.04], [-0.04, -0.02, 0.0, 0.02, 0.04], [-0.2, -0.1, 0.0, 0.1, 0.2]],
          [[-1.0, -0.5, 0.0, 0.5, 1.0], [-0.04, -0.02, 0.0, 0.02, 0.04], [-0.04, -0.02, 0.0, 0.02, 0.04], [-0.2, -0.1, 0.0, 0.1, 0.2]]]
yticklabels = [[["0.7", "0.8", "0.9", "1.0"], ["-0.08", "-0.06", "-0.04", "-0.02", "0.00", "0.02"], ["-0.02", "0.00", "0.02", "0.04"], ["-0.3", "-0.1", "0.1", "0.3"]],
               [["-30.", "-20.", "-10.", "0.", "10.", "20.", "30."], ["-2", "-1", "0", "1", "2"], ["-2", "-1", "0", "1", "2"], ["-10", "-5", "0", "5", "10"]],
               [["-1.0", "-0.5", "0.0", "0.5", "1.0"], ["-0.04", "-0.02", "0.00", "0.02", "0.04"], ["-0.04", "-0.02", "0.00", "0.02", "0.04"], ["-0.20", "-0.10", "0.00", "0.10", "0.20"]],
               [["-1.0", "-0.5", "0.0", "0.5", "1.0"], ["-0.04", "-0.02", "0.00", "0.02", "0.04"], ["-0.04", "-0.02", "0.00", "0.02", "0.04"], ["-0.20", "-0.10", "0.00", "0.10", "0.20"]]]
yminor = [[0.02, 0.004, 0.004, 0.05],
          [2.0, 0.2, 0.2, 1.0],
          [0.1, 0.004, 0.004, 0.02],
          [0.1, 0.004, 0.004, 0.02]]

profiles = [prof_I, prof_Q, prof_U, prof_V]
response = [
    [(r2_I_gs, r2_I_gd, r2_I_ks, r2_I_kd), (r2_Q_gs, r2_Q_gd, r2_Q_ks, r2_Q_kd),
     (r2_U_gs, r2_U_gd, r2_U_ks, r2_U_kd), (r2_V_gs, r2_V_gd, r2_V_ks, r2_V_kd)],
    [(r3_I_gs, r3_I_gd, r3_I_ks, r3_I_kd), (r3_Q_gs, r3_Q_gd, r3_Q_ks, r3_Q_kd),
     (r3_U_gs, r3_U_gd, r3_U_ks, r3_U_kd), (r3_V_gs, r3_V_gd, r3_V_ks, r3_V_kd)],
    [(r4_I_gs, r4_I_gd, r4_I_ks, r4_I_kd), (r4_Q_gs, r4_Q_gd, r4_Q_ks, r4_Q_kd),
     (r4_U_gs, r4_U_gd, r4_U_ks, r4_U_kd), (r4_V_gs, r4_V_gd, r4_V_ks, r4_V_kd)],
]

# ---------------- layout ----------------
W, H = 1378, 850
fig = plt.figure(figsize=(W / 100, H / 100), dpi=100)
col_left = [83, 415, 747, 1077]
col_w = 267
row_top = [42, 240, 439, 638]
row_h = 179
XLIM = (4845.172, 4846.228)

GRAY = '#9a9a9a'
TICK_FS = 16.5
FW = 'bold'


def xy(pts):
    return [p[0] for p in pts], [p[1] for p in pts]


for r in range(4):
    for c in range(4):
        ax = fig.add_axes([col_left[c] / W, 1 - (row_top[r] + row_h) / H, col_w / W, row_h / H])
        ax.set_xlim(*XLIM)
        ax.set_ylim(*ylims[r][c])
        if r == 0:
            x, y = xy(profiles[c])
            ax.plot(x, y, color='black', lw=1.0, solid_joinstyle='round')
        else:
            gs, gd, ks, kd = response[r - 1][c]
            x, y = xy(gs)
            ax.plot(x, y, color=GRAY, lw=2.2, solid_joinstyle='round', zorder=2)
            x, y = xy(gd)
            ax.plot(x, y, color=GRAY, lw=2.2, linestyle=(0, (0.6, 2.6)), dash_capstyle='round', zorder=2)
            x, y = xy(ks)
            ax.plot(x, y, color='black', lw=1.0, solid_joinstyle='round', zorder=3)
            x, y = xy(kd)
            ax.plot(x, y, color='black', lw=1.0, linestyle=(0, (2.0, 2.6)), zorder=3)
        ax.xaxis.set_major_locator(FixedLocator([4845.2, 4845.4, 4845.6, 4845.8, 4846.0, 4846.2]))
        ax.xaxis.set_minor_locator(MultipleLocator(0.05))
        ax.set_xticklabels([])
        ax.yaxis.set_major_locator(FixedLocator(yticks[r][c]))
        ax.yaxis.set_major_formatter(FixedFormatter(yticklabels[r][c]))
        ax.yaxis.set_minor_locator(MultipleLocator(yminor[r][c]))
        ax.tick_params(which='both', direction='in', top=True, right=True, labelsize=TICK_FS, pad=3)
        ax.tick_params(which='major', length=8, width=1.0)
        ax.tick_params(which='minor', length=4, width=0.8)
        for lab in ax.get_yticklabels():
            lab.set_fontweight(FW)
        for s in ax.spines.values():
            s.set_linewidth(1.4)
        if r == 3:
            for xv, xl in zip(x_label_pos, x_labels):
                ax.text(xv, -0.06, xl, transform=ax.get_xaxis_transform(), ha='center', va='top',
                        fontsize=16.5, fontweight=FW)

for c in range(4):
    fig.text((col_left[c] + col_w / 2) / W, 1 - 21 / H, col_titles[c], ha='center', va='center',
             fontsize=20, fontweight=FW)
for r in range(4):
    fig.text(21 / W, 1 - (row_top[r] + row_h / 2) / H, row_labels[r], ha='center', va='center',
             rotation=90, fontsize=16, fontweight=FW)

fig.savefig("out.png", dpi=100)
